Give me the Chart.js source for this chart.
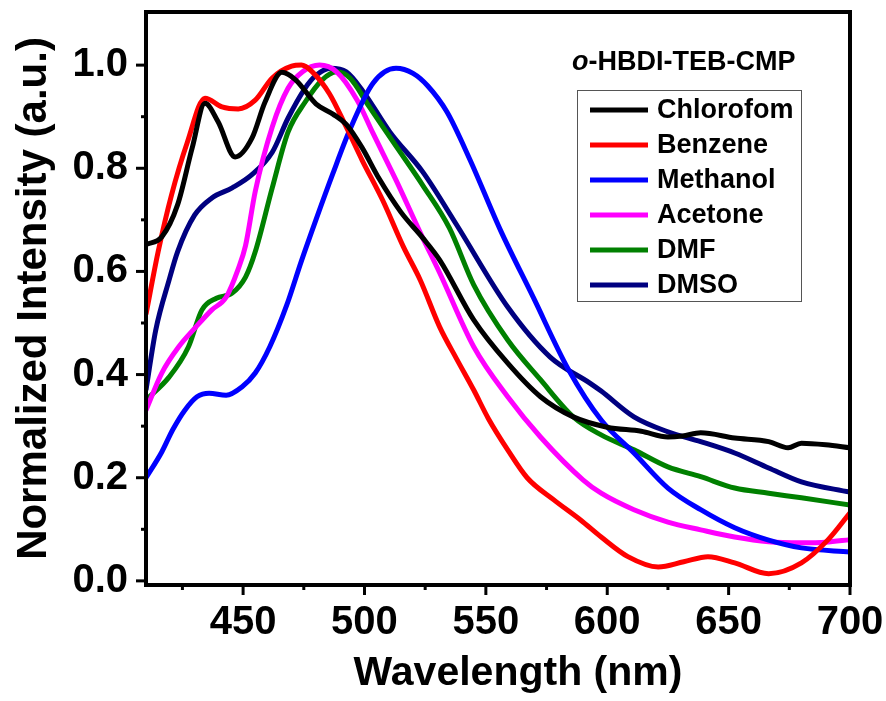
<!DOCTYPE html>
<html>
<head>
<meta charset="utf-8">
<script src="https://cdn.jsdelivr.net/npm/chart.js@4.4.0/dist/chart.umd.min.js"></script>
<style>
    html, body { margin: 0; padding: 0; background: #fff; }
    #wrap { width: 886px; height: 701px; position: relative; }
</style>
</head>
<body>
<div id="wrap"><canvas id="spectra"></canvas></div>
<script>
// Emission spectra (wavelength nm / normalized intensity)
const chloroformX = [410, 416.5, 423, 429, 434.3, 439.7, 446.7, 453.7, 459, 466, 471.5, 480, 487, 492.5, 499, 506, 515, 524, 531, 545, 559, 572.5, 586, 600, 614, 625, 631, 638.5, 652.5, 666.5, 674.5, 680, 690, 700];
const chloroformY = [0.652, 0.667, 0.729, 0.839, 0.926, 0.89, 0.822, 0.859, 0.928, 0.986, 0.972, 0.925, 0.905, 0.885, 0.84, 0.78, 0.715, 0.665, 0.622, 0.506, 0.422, 0.357, 0.318, 0.298, 0.29, 0.279, 0.281, 0.287, 0.277, 0.27, 0.258, 0.267, 0.264, 0.258];

const benzeneX = [410, 415, 420.5, 427, 434.3, 441.3, 448, 455, 462, 470, 474, 478.5, 485.5, 492.5, 499, 507.5, 516, 523, 531, 538, 545, 551, 559, 567, 578, 589, 597.5, 608.5, 621, 631.5, 641.5, 652.5, 666.5, 680, 691, 700];
const benzeneY = [0.517, 0.638, 0.748, 0.85, 0.936, 0.919, 0.915, 0.932, 0.975, 0.998, 1.0, 0.987, 0.945, 0.88, 0.816, 0.738, 0.648, 0.583, 0.492, 0.43, 0.37, 0.315, 0.254, 0.2, 0.157, 0.118, 0.085, 0.047, 0.027, 0.037, 0.047, 0.035, 0.014, 0.035, 0.08, 0.132];

const methanolX = [410, 416.5, 421, 426, 431, 436, 443, 449.5, 455, 461, 468, 474, 480, 487, 494, 503.5, 513, 520, 526, 534, 543.5, 556, 569.5, 584, 597.5, 611, 625, 638.5, 652.5, 666.5, 680, 700];
const methanolY = [0.2, 0.25, 0.293, 0.331, 0.357, 0.364, 0.36, 0.376, 0.403, 0.454, 0.535, 0.62, 0.70, 0.79, 0.875, 0.965, 0.994, 0.984, 0.96, 0.909, 0.816, 0.68, 0.55, 0.41, 0.312, 0.248, 0.18, 0.138, 0.103, 0.079, 0.064, 0.056];

const acetoneX = [410, 416.5, 423.5, 430.5, 437, 443, 448, 451, 455, 462, 468.5, 474.5, 481.5, 488.5, 497, 503.5, 513, 523.5, 531, 545, 559, 572.5, 590, 597.5, 611, 625, 638.5, 652.5, 666.5, 680, 690, 700];
const acetoneY = [0.331, 0.403, 0.454, 0.492, 0.525, 0.55, 0.605, 0.65, 0.755, 0.88, 0.955, 0.987, 1.0, 0.987, 0.932, 0.868, 0.777, 0.67, 0.597, 0.454, 0.357, 0.279, 0.196, 0.17, 0.138, 0.114, 0.099, 0.085, 0.076, 0.074, 0.075, 0.08];

const dmfX = [410, 419.5, 427.5, 433, 439, 445.5, 451, 455, 462, 468.5, 475.5, 482.5, 488.5, 494, 502, 513, 524, 535, 545, 559, 572.5, 586, 597.5, 611, 625, 638.5, 652.5, 666.5, 680, 700];
const dmfY = [0.351, 0.395, 0.454, 0.525, 0.548, 0.558, 0.589, 0.638, 0.762, 0.87, 0.928, 0.971, 0.987, 0.975, 0.919, 0.843, 0.767, 0.684, 0.574, 0.467, 0.39, 0.318, 0.283, 0.254, 0.221, 0.202, 0.18, 0.17, 0.161, 0.147];

const dmsoX = [410, 414, 419.5, 423, 430, 437, 445.5, 453.5, 462, 468.5, 475.5, 480, 486, 492.5, 499, 510.5, 524, 538, 559, 576.5, 593, 597.5, 611, 625, 638.5, 652.5, 666.5, 680, 700];
const dmsoY = [0.37, 0.486, 0.583, 0.638, 0.709, 0.742, 0.762, 0.787, 0.831, 0.897, 0.955, 0.98, 0.994, 0.987, 0.952, 0.87, 0.793, 0.69, 0.531, 0.434, 0.383, 0.368, 0.318, 0.289, 0.27, 0.248, 0.219, 0.192, 0.172];

const seriesNames = ['Chlorofom', 'Benzene', 'Methanol', 'Acetone', 'DMF', 'DMSO'];
const seriesColors = ['#000000', '#ff0000', '#0000ff', '#ff00ff', '#008000', '#000080'];
const seriesX = [chloroformX, benzeneX, methanolX, acetoneX, dmfX, dmsoX];
const seriesY = [chloroformY, benzeneY, methanolY, acetoneY, dmfY, dmsoY];

const xTickValues = [425, 450, 475, 500, 525, 550, 575, 600, 625, 650, 675, 700];
const yTickValues = [0, 0.1, 0.2, 0.3, 0.4, 0.5, 0.6, 0.7, 0.8, 0.9, 1.0];

const FONT = '"Liberation Sans", Arial, sans-serif';

function toPoints(xs, ys) {
    return xs.map((x, i) => ({ x: x, y: ys[i] }));
}

// don't let tick labels push the plot frame around
function noPadding(scale) {
    scale.paddingTop = 0;
    scale.paddingBottom = 0;
    scale.paddingLeft = 0;
    scale.paddingRight = 0;
}

// frame, outward ticks, x title, inset title + legend
const decorPlugin = {
    id: 'decor',
    afterDraw(chart) {
        const ctx = chart.ctx;
        const area = chart.chartArea;
        const xs = chart.scales.x;
        const ys = chart.scales.y;
        ctx.save();
        ctx.strokeStyle = '#000';
        ctx.lineWidth = 4;
        ctx.strokeRect(area.left, area.top, area.right - area.left, area.bottom - area.top);

        ctx.lineWidth = 3;
        xTickValues.forEach(v => {
            const px = xs.getPixelForValue(v);
            const len = v % 50 === 0 ? 10 : 5;
            ctx.beginPath();
            ctx.moveTo(px, area.bottom);
            ctx.lineTo(px, area.bottom + len);
            ctx.stroke();
        });
        yTickValues.forEach((v, i) => {
            const py = ys.getPixelForValue(v);
            const len = i % 2 === 0 ? 10 : 5;
            ctx.beginPath();
            ctx.moveTo(area.left, py);
            ctx.lineTo(area.left - len, py);
            ctx.stroke();
        });

        // x axis title (sits a bit right of the axis centre in the original)
        ctx.fillStyle = '#000';
        ctx.textAlign = 'center';
        ctx.textBaseline = 'middle';
        ctx.font = 'bold 41px ' + FONT;
        ctx.fillText('Wavelength (nm)', 518, 674);

        // title
        ctx.textBaseline = 'alphabetic';
        ctx.textAlign = 'left';
        ctx.font = 'italic bold 27px ' + FONT;
        const tx = 572, ty = 70;
        ctx.fillText('o', tx, ty);
        const ow = ctx.measureText('o').width;
        ctx.font = 'bold 27px ' + FONT;
        ctx.fillText('-HBDI-TEB-CMP', tx + ow, ty);

        // legend box
        ctx.lineWidth = 1;
        ctx.strokeStyle = '#555';
        ctx.strokeRect(577.5, 90.5, 224, 211);
        ctx.font = 'bold 27px ' + FONT;
        ctx.textBaseline = 'middle';
        chart.data.datasets.forEach((ds, i) => {
            const cy = 110 + i * 35;
            ctx.strokeStyle = ds.borderColor;
            ctx.lineWidth = 5;
            ctx.beginPath();
            ctx.moveTo(590, cy);
            ctx.lineTo(648, cy);
            ctx.stroke();
            ctx.fillStyle = '#000';
            ctx.fillText(ds.label, 657, cy + 1);
        });
        ctx.restore();
    }
};

const datasets = seriesNames.map((name, i) => ({
    label: name,
    data: toPoints(seriesX[i], seriesY[i]),
    borderColor: seriesColors[i],
    borderWidth: 5,
    pointRadius: 0,
    fill: false,
    cubicInterpolationMode: 'monotone'
}));

new Chart(document.getElementById('spectra'), {
    type: 'line',
    data: { datasets: datasets },
    options: {
        responsive: true,
        maintainAspectRatio: false,
        animation: false,
        layout: { padding: { top: 12, right: 36, left: 0, bottom: 0 } },
        plugins: {
            legend: { display: false },
            tooltip: { enabled: false }
        },
        scales: {
            x: {
                type: 'linear',
                min: 410,
                max: 700,
                afterBuildTicks: scale => { scale.ticks = xTickValues.map(v => ({ value: v })); },
                afterFit: scale => { scale.height = 116; noPadding(scale); },
                grid: { display: false, drawTicks: false },
                border: { display: false },
                ticks: {
                    color: '#000',
                    padding: 14,
                    maxRotation: 0,
                    autoSkip: false,
                    font: { family: FONT, size: 40, weight: 'bold' },
                    callback: v => (v % 50 === 0 ? String(v) : '')
                },
                title: { display: false }
            },
            y: {
                min: -0.008,
                max: 1.103,
                afterBuildTicks: scale => { scale.ticks = yTickValues.map(v => ({ value: v })); },
                afterFit: scale => { scale.width = 146; noPadding(scale); },
                grid: { display: false, drawTicks: false },
                border: { display: false },
                ticks: {
                    color: '#000',
                    padding: 18,
                    autoSkip: false,
                    font: { family: FONT, size: 40, weight: 'bold' },
                    callback: (v, i) => (i % 2 === 0 ? v.toFixed(1) : '')
                },
                title: {
                    display: true,
                    text: 'Normalized Intensity (a.u.)',
                    color: '#000',
                    padding: { top: 9, bottom: 0 },
                    font: { family: FONT, size: 42, weight: 'bold' }
                }
            }
        }
    },
    plugins: [decorPlugin]
});
</script>
</body>
</html>
